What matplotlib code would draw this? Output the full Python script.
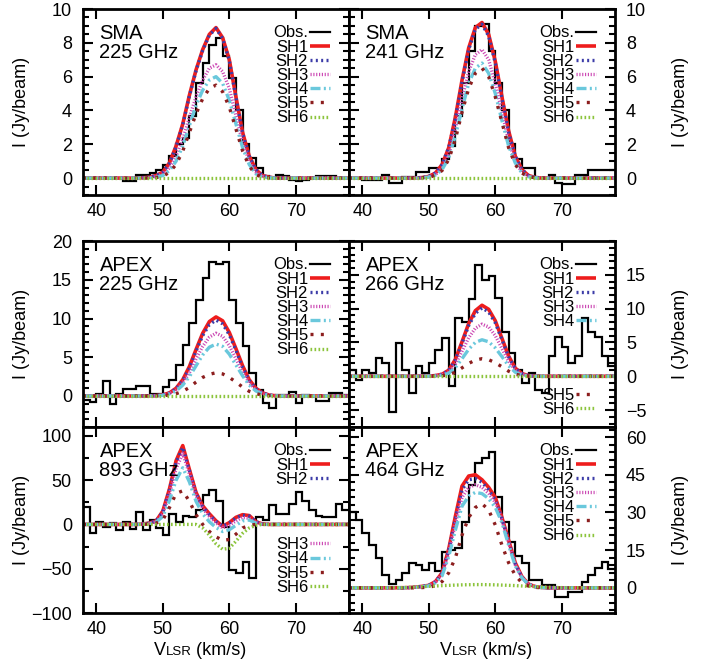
import numpy as np
import matplotlib
matplotlib.use('Agg')
import matplotlib.pyplot as plt
from matplotlib.ticker import MultipleLocator, FixedLocator
from matplotlib.offsetbox import TextArea, HPacker, AnchoredOffsetbox

plt.rcParams['font.family'] = ['Liberation Sans', 'DejaVu Sans']
plt.rcParams['font.size'] = 13
plt.rcParams['axes.linewidth'] = 2.0

# Channel edges of the observed spectra (km/s)
chan_edges = np.arange(38, 79, 1)
# Velocity grid of the model curves (km/s)
v_mod = [38, 42, 46, 47, 48, 49, 50, 51, 52, 53, 54, 55, 56, 57, 58, 59, 60,
         61, 62, 63, 64, 65, 66, 67, 68, 69, 70, 74, 78]

# SMA 225 GHz
obs_sma225 = [0.0, 0.0, 0.0, 0.0, 0.0, 0.0, -0.2, -0.2, 0.2, 0.2, 0.3, 0.5, 0.8, 1.3, 2.0, 2.4, 3.7, 5.6, 6.8, 7.9,
              8.3, 7.2, 5.9, 4.0, 2.0, 1.2, 0.6, 0.1, 0.0, 0.2, 0.1, -0.1, -0.2, -0.1, 0.0, 0.1, 0.1, 0.1, 0.0, 0.0]
sh1_sma225 = [0, 0, 0, 0.02, 0.05, 0.15, 0.35, 0.9, 1.9, 3.2, 4.9, 6.4, 7.6, 8.5, 8.9, 8.3, 7.0, 4.8, 2.7, 1.3, 0.5, 0.15, 0.05, 0, 0, 0, 0, 0, 0]
sh2_sma225 = [0, 0, 0, 0.02, 0.05, 0.15, 0.35, 0.88, 1.85, 3.15, 4.85, 6.35, 7.55, 8.45, 8.85, 8.25, 6.95, 4.75, 2.65, 1.28, 0.5, 0.15, 0.05, 0, 0, 0, 0, 0, 0]
sh3_sma225 = [0, 0, 0, 0.01, 0.03, 0.1, 0.25, 0.6, 1.3, 2.3, 3.6, 4.8, 5.8, 6.5, 6.7, 6.3, 5.3, 3.7, 2.1, 1.0, 0.35, 0.1, 0.03, 0, 0, 0, 0, 0, 0]
sh4_sma225 = [0, 0, 0, 0, 0.02, 0.05, 0.15, 0.45, 1.0, 1.9, 3.1, 4.3, 5.2, 5.8, 6.0, 5.6, 4.6, 3.2, 1.8, 0.8, 0.25, 0.07, 0.02, 0, 0, 0, 0, 0, 0]
sh5_sma225 = [0, 0, 0, 0, 0.01, 0.03, 0.1, 0.35, 0.8, 1.6, 2.7, 3.8, 4.7, 5.3, 5.5, 5.1, 4.2, 2.9, 1.6, 0.7, 0.2, 0.05, 0.01, 0, 0, 0, 0, 0, 0]
sh6_sma225 = [0, 0, 0, 0, 0, 0, 0, 0, 0, 0, 0, 0, 0, 0, 0, 0, 0, 0, 0, 0, 0, 0, 0, 0, 0, 0, 0, 0, 0]

# SMA 241 GHz
obs_sma241 = [0.0, 0.0, -0.1, -0.1, -0.1, 0.2, -0.3, -0.3, 0.05, 0.05, 0.35, 0.35, 0.6, 0.6, 1.1, 1.9, 3.7, 5.6, 7.5, 9.0,
              9.1, 7.5, 5.6, 4.0, 2.0, 1.1, 0.6, 0.6, 0.0, 0.0, 0.2, -0.3, -0.35, -0.35, 0.2, 0.2, 0.5, 0.5, 0.5, 0.5]
sh1_sma241 = [0, 0, 0, 0, 0.01, 0.03, 0.1, 0.3, 0.8, 1.8, 3.6, 5.8, 7.7, 8.9, 9.2, 8.5, 6.9, 4.8, 2.8, 1.3, 0.5, 0.15, 0.04, 0, 0, 0, 0, 0, 0]
sh2_sma241 = [0, 0, 0, 0, 0.01, 0.03, 0.1, 0.3, 0.8, 1.8, 3.5, 5.7, 7.6, 8.8, 9.1, 8.4, 6.8, 4.7, 2.7, 1.3, 0.5, 0.15, 0.04, 0, 0, 0, 0, 0, 0]
sh3_sma241 = [0, 0, 0, 0, 0.01, 0.02, 0.07, 0.2, 0.6, 1.4, 2.9, 4.7, 6.3, 7.3, 7.6, 7.0, 5.6, 3.9, 2.2, 1.0, 0.35, 0.1, 0.03, 0, 0, 0, 0, 0, 0]
sh4_sma241 = [0, 0, 0, 0, 0.01, 0.02, 0.06, 0.18, 0.5, 1.2, 2.5, 4.1, 5.6, 6.5, 6.8, 6.2, 5.0, 3.4, 1.9, 0.9, 0.3, 0.08, 0.02, 0, 0, 0, 0, 0, 0]
sh5_sma241 = [0, 0, 0, 0, 0.01, 0.02, 0.05, 0.16, 0.45, 1.1, 2.3, 3.9, 5.3, 6.2, 6.5, 6.0, 4.8, 3.3, 1.8, 0.8, 0.3, 0.08, 0.02, 0, 0, 0, 0, 0, 0]
sh6_sma241 = [0, 0, 0, 0, 0, 0, 0, 0, 0, 0, 0, 0, 0, 0, 0, 0, 0, 0, 0, 0, 0, 0, 0, 0, 0, 0, 0, 0, 0]

# APEX 225 GHz
obs_apex225 = [-0.5, -0.75, 0.3, 1.9, -1.0, 0.2, 0.9, 0.9, 1.3, 1.3, 0.3, 0.3, 1.2, 2.1, 4.0, 6.6, 9.4, 12.4, 15.2, 17.3,
               17.0, 17.3, 12.4, 9.4, 6.4, 3.0, 0.8, -0.9, -1.5, 0.15, 0.15, 0.5, -0.9, 0.1, 0.0, -0.6, -0.6, 0.4, 0.4, 0.1]
sh1_apex225 = [0, 0, 0, 0.01, 0.02, 0.05, 0.15, 0.4, 1.0, 2.1, 3.8, 6.0, 8.1, 9.6, 10.2, 9.7, 8.2, 6.1, 3.9, 2.1, 1.0, 0.4, 0.12, 0.03, 0, 0, 0, 0, 0]
sh2_apex225 = [0, 0, 0, 0.01, 0.02, 0.05, 0.14, 0.38, 0.95, 2.0, 3.6, 5.8, 7.8, 9.2, 9.8, 9.3, 7.9, 5.9, 3.7, 2.0, 0.95, 0.38, 0.12, 0.03, 0, 0, 0, 0, 0]
sh3_apex225 = [0, 0, 0, 0.01, 0.02, 0.04, 0.12, 0.32, 0.8, 1.7, 3.0, 4.8, 6.4, 7.6, 8.1, 7.7, 6.5, 4.8, 3.1, 1.7, 0.8, 0.32, 0.1, 0.02, 0, 0, 0, 0, 0]
sh4_apex225 = [0, 0, 0, 0, 0.01, 0.03, 0.1, 0.27, 0.65, 1.4, 2.5, 3.9, 5.3, 6.3, 6.7, 6.4, 5.4, 4.0, 2.6, 1.4, 0.65, 0.27, 0.08, 0.02, 0, 0, 0, 0, 0]
sh5_apex225 = [0, 0, 0, 0, 0.01, 0.02, 0.05, 0.12, 0.3, 0.6, 1.1, 1.8, 2.4, 2.8, 3.0, 2.85, 2.4, 1.8, 1.15, 0.6, 0.3, 0.12, 0.04, 0.01, 0, 0, 0, 0, 0]
sh6_apex225 = [0, 0, 0, 0, 0, 0, 0, 0, 0, 0, 0, 0, 0, 0, 0, 0, 0, 0, 0, 0, 0, 0, 0, 0, 0, 0, 0, 0, 0]

# APEX 266 GHz
obs_apex266 = [1.0, -0.5, 1.0, 0.5, 2.7, 2.0, -5.3, 4.9, 1.0, -2.5, 1.5, 0.5, 2.0, 3.9, 5.7, -1.5, 8.6, 8.0, 11.4, 16.4,
               14.3, 14.8, 11.5, 6.5, 3.5, 1.0, -1.0, 0.5, -2.0, -2.5, 3.0, 5.8, 4.4, 2.0, 3.0, 8.6, 6.6, 5.8, 3.0, 1.5]
sh1_apex266 = [0, 0, 0, 0, 0, 0.01, 0.03, 0.1, 0.3, 0.9, 2.5, 5.1, 7.8, 9.7, 10.5, 9.9, 8.2, 5.6, 3.0, 1.2, 0.4, 0.1, 0.02, 0, 0, 0, 0, 0, 0]
sh2_apex266 = [0, 0, 0, 0, 0, 0.01, 0.03, 0.1, 0.3, 0.85, 2.4, 4.9, 7.5, 9.3, 10.1, 9.5, 7.9, 5.4, 2.9, 1.15, 0.4, 0.1, 0.02, 0, 0, 0, 0, 0, 0]
sh3_apex266 = [0, 0, 0, 0, 0, 0.01, 0.02, 0.08, 0.22, 0.65, 1.8, 3.7, 5.7, 7.1, 7.7, 7.3, 6.0, 4.1, 2.2, 0.9, 0.3, 0.07, 0.01, 0, 0, 0, 0, 0, 0]
sh4_apex266 = [0, 0, 0, 0, 0, 0, 0.02, 0.05, 0.15, 0.45, 1.3, 2.6, 4.0, 5.0, 5.4, 5.1, 4.2, 2.9, 1.55, 0.6, 0.2, 0.05, 0.01, 0, 0, 0, 0, 0, 0]
sh5_apex266 = [0, 0, 0, 0, 0, 0, 0.01, 0.03, 0.07, 0.22, 0.6, 1.25, 1.9, 2.4, 2.6, 2.45, 2.0, 1.4, 0.75, 0.3, 0.1, 0.02, 0, 0, 0, 0, 0, 0, 0]
sh6_apex266 = [0, 0, 0, 0, 0, 0, 0, 0, 0, 0, 0, 0, 0, 0, 0, 0, 0, 0, 0, 0, 0, 0, 0, 0, 0, 0, 0, 0, 0]

# APEX 893 GHz
obs_apex893 = [20, -10, 3, -3, 2, -6, 3, -5, 14, -6, 5, -4, -12, 12, 3, 10, 8, 16, 33, 39,
               26, -2.5, -52, -55, -42, -61, 8, 5, 22, 12, 12, 23, 37, 26, 16, 10, 8, 8, 23, 16]
sh1_apex893 = [0, 0, 0, 0.5, 1.5, 4, 15, 40, 72, 89, 62, 36, 21, 12, 4, -2, 2, 8, 11, 10, 3, 0.5, 0, 0, 0, 0, 0, 0, 0]
sh2_apex893 = [0, 0, 0, 0.5, 1.5, 4, 14, 39, 70, 87, 61, 35, 20, 11, 3.5, -2, 1.5, 7.5, 10.5, 9.5, 3, 0.5, 0, 0, 0, 0, 0, 0, 0]
sh3_apex893 = [0, 0, 0, 0.3, 1, 3, 12, 34, 63, 80, 57, 32, 18, 9, 2, -4, -1, 4, 8, 7, 2, 0.3, 0, 0, 0, 0, 0, 0, 0]
sh4_apex893 = [0, 0, 0, 0.3, 1, 2.5, 9, 27, 50, 64, 48, 26, 12, 3, -3.5, -8, -6, -1, 4, 5, 1.5, 0, 0, 0, 0, 0, 0, 0, 0]
sh5_apex893 = [0, 0, 0, 0.1, 0.5, 1.5, 5, 19, 35, 38, 26, 11, 0, -8, -14, -18, -17, -11, -4, -1, 0, 0, 0, 0, 0, 0, 0, 0, 0]
sh6_apex893 = [0, 0, 0, 0, 0, 0, 0, 0, 0, 0, 0, 0, -4, -12, -22, -28, -27, -19, -10, -4, -1, 0, 0, 0, 0, 0, 0, 0, 0]

# APEX 464 GHz
obs_apex464 = [30, 27, 22, 17, 12, 5, 1.5, 3, 6, 9.7, 9, 7, 9.7, 6.7, 14.4, 15, 16, 26.4, 40.9, 49.5,
               51.5, 54.2, 36, 26.4, 18.4, 12.5, 9.7, 3, 3, 1, 1, -3.6, -3.6, -1.5, -1.5, 2.5, 5, 8, 10.3, 7.7]
sh1_apex464 = [0, 0, 0.05, 0.1, 0.3, 0.6, 1.0, 2.5, 6, 15.5, 28.5, 40.5, 44.5, 45, 43, 40, 36, 28, 19, 10, 4.5, 1.5, 0.5, 0.15, 0.05, 0, 0, 0, 0]
sh2_apex464 = [0, 0, 0.05, 0.1, 0.3, 0.6, 1.0, 2.4, 5.8, 15, 27.5, 39, 43, 43.5, 42, 39, 35, 27.5, 18.5, 9.5, 4.3, 1.4, 0.5, 0.15, 0.05, 0, 0, 0, 0]
sh3_apex464 = [0, 0, 0.05, 0.1, 0.25, 0.5, 0.9, 2.2, 5.4, 14, 25.5, 36, 40, 41, 40, 37.5, 34, 27, 18, 9.2, 4.2, 1.4, 0.5, 0.15, 0.05, 0, 0, 0, 0]
sh4_apex464 = [0, 0, 0.04, 0.08, 0.2, 0.45, 0.8, 2, 4.8, 12.5, 23, 32.5, 36.5, 38, 37.5, 35.5, 32, 26, 17, 8.8, 4, 1.3, 0.4, 0.12, 0.04, 0, 0, 0, 0]
sh5_apex464 = [0, 0, 0, 0.02, 0.05, 0.12, 0.3, 0.8, 2.5, 6, 12, 21, 28, 32, 33.5, 31, 25, 17, 10, 5, 2, 0.7, 0.2, 0.05, 0, 0, 0, 0, 0]
sh6_apex464 = [0, 0, 0.1, 0.2, 0.35, 0.5, 0.6, 0.75, 0.9, 1.0, 1.1, 1.2, 1.25, 1.3, 1.3, 1.25, 1.2, 1.1, 1.0, 0.9, 0.75, 0.6, 0.5, 0.35, 0.25, 0.15, 0.1, 0, 0]

model_names = ['SH1', 'SH2', 'SH3', 'SH4', 'SH5', 'SH6']
model_colors = ['#ee1c1c', '#3c3ca8', '#cc4ab4', '#6ac8dc', '#8c1e1e', '#8cc43c']
model_dashes = [None, (0.6, 1.0), (0.35, 0.5), (3.0, 1.0, 0.6, 1.0, 0.6, 1.0), (0.9, 2.2), (0.5, 0.7)]
model_lw = [2.6, 2.4, 2.4, 2.4, 2.4, 2.4]

# label, obs, models, ylim, y tick labels, minor step, entries in upper legend, lower legend y
panels = [
    ('SMA\n225 GHz', obs_sma225, [sh1_sma225, sh2_sma225, sh3_sma225, sh4_sma225, sh5_sma225, sh6_sma225],
     (-1, 10), [0, 2, 4, 6, 8, 10], 0.5, 7, None),
    ('SMA\n241 GHz', obs_sma241, [sh1_sma241, sh2_sma241, sh3_sma241, sh4_sma241, sh5_sma241, sh6_sma241],
     (-1, 10), [0, 2, 4, 6, 8, 10], 0.5, 7, None),
    ('APEX\n225 GHz', obs_apex225, [sh1_apex225, sh2_apex225, sh3_apex225, sh4_apex225, sh5_apex225, sh6_apex225],
     (-4, 20), [0, 5, 10, 15, 20], 1, 7, None),
    ('APEX\n266 GHz', obs_apex266, [sh1_apex266, sh2_apex266, sh3_apex266, sh4_apex266, sh5_apex266, sh6_apex266],
     (-7.5, 20), [-5, 0, 5, 10, 15], 1, 5, 0.055),
    ('APEX\n893 GHz', obs_apex893, [sh1_apex893, sh2_apex893, sh3_apex893, sh4_apex893, sh5_apex893, sh6_apex893],
     (-100, 110), [-100, -50, 0, 50, 100], 25, 3, 0.098),
    ('APEX\n464 GHz', obs_apex464, [sh1_apex464, sh2_apex464, sh3_apex464, sh4_apex464, sh5_apex464, sh6_apex464],
     (-10, 64), [0, 15, 30, 45, 60], 3, 7, None),
]

W, H = 706, 663
fig = plt.figure(figsize=(W / 100, H / 100), dpi=100)
col_x = [83, 349]
row_y = [9, 241, 427]
pw, ph = 266, 186
xlabel_x = [0.44, 0.515]

for k, (label, obs, models, ylim, yticks, minor, n_up, low_y) in enumerate(panels):
    row, col = divmod(k, 2)
    ax = fig.add_axes([col_x[col] / W, 1 - (row_y[row] + ph) / H, pw / W, ph / H])
    handles = [ax.stairs(obs, chan_edges, baseline=None, color='black', lw=1.6, label='Obs.')]
    for j, m in enumerate(models):
        ln, = ax.plot(v_mod, m, color=model_colors[j], lw=model_lw[j], label=model_names[j],
                      solid_capstyle='butt', dash_capstyle='butt')
        if model_dashes[j] is not None:
            ln.set_linestyle((0, model_dashes[j]))
        handles.append(ln)
    ax.set_xlim(38, 78)
    ax.set_ylim(*ylim)
    ax.xaxis.set_major_locator(MultipleLocator(10))
    ax.yaxis.set_major_locator(FixedLocator(yticks))
    ax.yaxis.set_minor_locator(MultipleLocator(minor))
    ax.tick_params(which='both', direction='in', top=True, bottom=True, left=True, right=True)
    ax.tick_params(which='major', length=7, width=1.5)
    ax.tick_params(which='minor', length=4, width=1.5)
    ax.tick_params(axis='y', pad=8)
    ax.tick_params(axis='x', pad=6)
    if row == 1:
        ax.tick_params(labelbottom=False)
    if col == 1:
        ax.tick_params(labelleft=False, labelright=True)
        ax.yaxis.set_label_position('right')
        ax.set_ylabel('I (Jy/beam)')
        ax.yaxis.set_label_coords(1.215, 0.5)
    else:
        ax.set_ylabel('I (Jy/beam)')
        ax.yaxis.set_label_coords(-0.2, 0.5)
    if row == 2:
        # V with small-caps style LSR on the same baseline
        xl = HPacker(children=[TextArea('V', textprops=dict(fontsize=13)),
                               TextArea('LSR', textprops=dict(fontsize=9.5)),
                               TextArea(' (km/s)', textprops=dict(fontsize=13))],
                     align='baseline', pad=0, sep=0)
        ax.add_artist(AnchoredOffsetbox(loc='center', child=xl, frameon=False, pad=0, borderpad=0,
                                        bbox_to_anchor=(xlabel_x[col], -0.2),
                                        bbox_transform=ax.transAxes))

    ax.text(0.062, 0.922, label, transform=ax.transAxes, ha='left', va='top',
            fontsize=14.5, linespacing=1.05)

    leg_kw = dict(frameon=False, markerfirst=False, fontsize=12, handlelength=1.2,
                  handletextpad=0.12, labelspacing=-0.05, borderpad=0, borderaxespad=0)
    leg = ax.legend(handles[:n_up], [hh.get_label() for hh in handles[:n_up]],
                    loc='upper right', bbox_to_anchor=(0.929, 0.912), **leg_kw)
    if n_up < len(handles):
        ax.add_artist(leg)
        ax.legend(handles[n_up:], [hh.get_label() for hh in handles[n_up:]],
                  loc='lower right', bbox_to_anchor=(0.929, low_y), **leg_kw)

fig.savefig('out.png', dpi=100)
